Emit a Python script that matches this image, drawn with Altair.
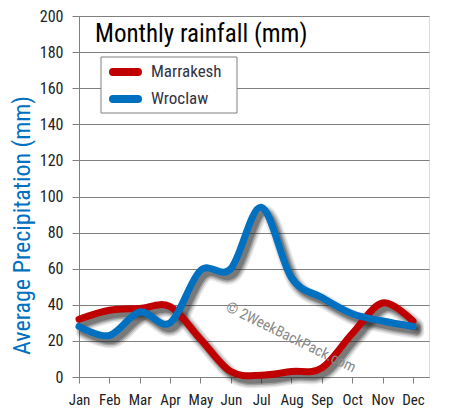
import altair as alt
import pandas as pd

months = ["Jan", "Feb", "Mar", "Apr", "May", "Jun", "Jul", "Aug", "Sep", "Oct", "Nov", "Dec"]
marrakesh = [32, 37, 38, 39, 21, 3, 1, 3, 5, 24, 41, 31]
wroclaw = [28, 23, 36, 30, 59, 60, 94, 55, 44, 35, 31, 28]
cities = ["Marrakesh", "Wroclaw"]
colors = ["#C00000", "#0070C0"]

rows = []
for i, m in enumerate(months):
    rows.append({"idx": i, "month": m, "city": "Marrakesh", "mm": marrakesh[i]})
    rows.append({"idx": i, "month": m, "city": "Wroclaw", "mm": wroclaw[i]})
df = pd.DataFrame(rows)

FONT = "Liberation Sans Narrow, Roboto Condensed, DejaVu Sans Condensed, Roboto"
label_expr = "[" + ",".join("'%s'" % m for m in months) + "][datum.value]"

x_enc = alt.X("idx:Q", scale=alt.Scale(domain=[0, 11.53], nice=False, zero=False),
              axis=alt.Axis(values=list(range(12)), labelExpr=label_expr, title=None,
                            grid=False, domainColor="#808080", tickColor="#808080",
                            tickSize=6, labelPadding=9, labelFontSize=15, labelFlush=False,
                            labelOverlap=False, labelColor="#222222", labelFont=FONT))
y_enc = alt.Y("mm:Q", scale=alt.Scale(domain=[0, 200], nice=False),
              axis=alt.Axis(values=list(range(0, 201, 20)), title="Average  Precipitation  (mm)",
                            titleColor="#0070C0", titleFontSize=24, titleFont=FONT,
                            titleFontWeight="normal", titleAngle=-90, titleX=-57, titleY=209,
                            titleAlign="center", titleBaseline="middle",
                            gridColor="#808080", gridWidth=1, domainColor="#808080",
                            tickColor="#808080", tickSize=7, labelPadding=9, labelFlush=False,
                            labelFontSize=16, labelColor="#222222", labelFont=FONT))

base = alt.Chart(df)

shadows = []
for w, op in [(15, 0.10), (12, 0.15), (9, 0.25), (6, 0.3)]:
    shadows.append(
        base.mark_line(interpolate="cardinal", strokeWidth=w, color="#222222",
                       opacity=op, xOffset=4, yOffset=5, strokeCap="round")
        .encode(x=x_enc, y=y_enc, detail="city:N")
    )

lines = base.mark_line(interpolate="cardinal", strokeWidth=7, strokeCap="round").encode(
    x=x_enc, y=y_enc,
    color=alt.Color("city:N", scale=alt.Scale(domain=cities, range=colors), legend=None),
)

# custom legend box
legend_layers = [
    alt.Chart(pd.DataFrame({"a": [0]})).mark_rect(fill="white", stroke="#808080",
                                                  strokeWidth=1).encode(
        x=alt.value(22), x2=alt.value(158), y=alt.value(41), y2=alt.value(97))
]
for k, (c, col) in enumerate(zip(cities, colors)):
    yy = 56 + 27 * k
    cdf = pd.DataFrame({"city": [c]})
    legend_layers.append(
        alt.Chart(cdf).mark_rule(color=col, strokeWidth=8, strokeCap="round").encode(
            x=alt.value(34), x2=alt.value(59), y=alt.value(yy))
    )
    legend_layers.append(
        alt.Chart(cdf).mark_text(align="left", baseline="middle", fontSize=17, font=FONT,
                                 color="#333344").encode(
            x=alt.value(72), y=alt.value(yy), text="city:N")
    )

title_df = pd.DataFrame({"t": ["Monthly rainfall (mm)"]})
title = alt.Chart(title_df).mark_text(align="left", baseline="middle", fontSize=25,
                                      font=FONT, color="black").encode(
    x=alt.value(16), y=alt.value(18), text="t:N")

wm_df = pd.DataFrame({"t": ["© 2WeekBackPack.com"]})
watermark = alt.Chart(wm_df).mark_text(align="center", baseline="middle", fontSize=15,
                                       font=FONT, color="#8a8a8a", angle=26).encode(
    x=alt.value(212), y=alt.value(321), text="t:N")

chart = alt.layer(*shadows, lines, *legend_layers, title, watermark).properties(
    width=350, height=361,
    autosize=alt.AutoSizeParams(type="none"),
    padding={"left": 71, "top": 8, "right": 12, "bottom": 34},
).configure_view(stroke="black", strokeWidth=1.5).configure(background="white")

chart.save("out.html", embed_options={"renderer": "svg", "actions": False})
